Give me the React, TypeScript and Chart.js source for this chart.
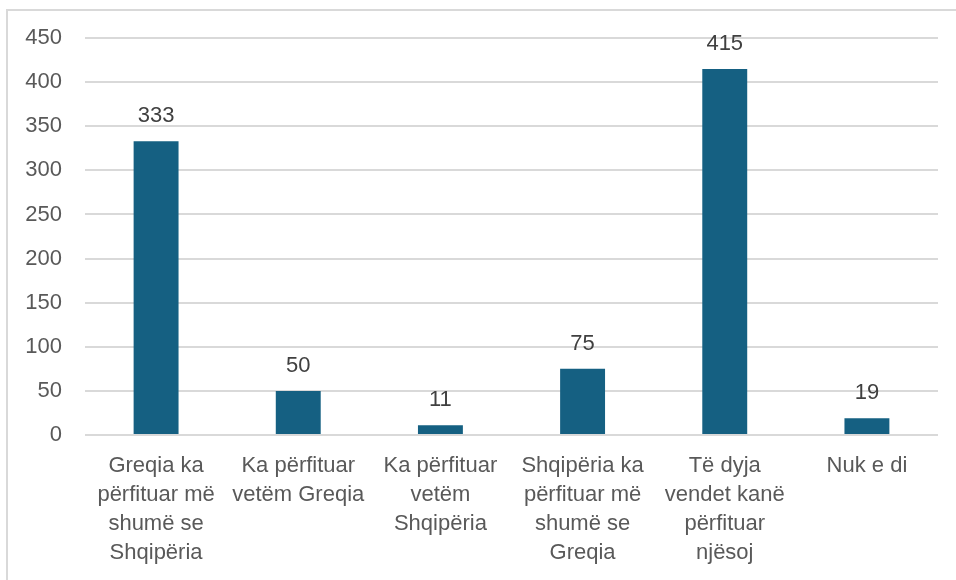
import React, { useEffect, useRef } from "react";
import { Chart, registerables } from "chart.js";

Chart.register(...registerables);

const categories: string[][] = [
  ["Greqia ka", "përfituar më", "shumë se", "Shqipëria"],
  ["Ka përfituar", "vetëm Greqia"],
  ["Ka përfituar", "vetëm", "Shqipëria"],
  ["Shqipëria ka", "përfituar më", "shumë se", "Greqia"],
  ["Të dyja", "vendet kanë", "përfituar", "njësoj"],
  ["Nuk e di"],
];
const values: number[] = [333, 50, 11, 75, 415, 19];

const FONT = "'Liberation Sans', Arial, sans-serif";
const BAR = "#156082";
const GRID = "#d9d9d9";
const AXIS_TEXT = "#595959";
const LABEL_TEXT = "#404040";

const dataLabels = {
  id: "dataLabels",
  afterDatasetsDraw(chart: any) {
    const ctx = chart.ctx;
    const meta = chart.getDatasetMeta(0);
    ctx.save();
    ctx.font = `22px ${FONT}`;
    ctx.fillStyle = LABEL_TEXT;
    ctx.textAlign = "center";
    ctx.textBaseline = "middle";
    meta.data.forEach((bar: any, i: number) => {
      ctx.fillText(String(values[i]), bar.x, bar.y - 25);
    });
    ctx.restore();
  },
};

export default function App() {
  const ref = useRef<HTMLCanvasElement>(null);
  useEffect(() => {
    document.body.style.overflow = "hidden";
    const chart = new Chart(ref.current!, {
      type: "bar",
      data: {
        labels: categories,
        datasets: [
          {
            data: values,
            backgroundColor: BAR,
            borderWidth: 0,
            categoryPercentage: 1,
            barPercentage: 0.316,
          },
        ],
      },
      options: {
        animation: false,
        responsive: false,
        devicePixelRatio: 1,
        layout: { padding: { top: 38, right: 18, left: 0, bottom: 0 } },
        plugins: { legend: { display: false }, tooltip: { enabled: false } },
        scales: {
          x: {
            grid: { display: false, drawTicks: false },
            border: { display: false },
            ticks: {
              autoSkip: false,
              maxRotation: 0,
              minRotation: 0,
              padding: 16,
              color: AXIS_TEXT,
              font: { family: FONT, size: 22, lineHeight: 1.32 },
            },
            afterFit: (s: any) => {
              s.height = 145;
            },
          },
          y: {
            min: 0,
            max: 450,
            grid: { color: GRID, lineWidth: 2, drawTicks: false },
            border: { display: false },
            ticks: {
              stepSize: 50,
              padding: 23,
              color: AXIS_TEXT,
              font: { family: FONT, size: 22 },
            },
            afterFit: (s: any) => {
              s.width = 85;
            },
          },
        },
      },
      plugins: [dataLabels],
    });
    return () => chart.destroy();
  }, []);

  return (
    <>
      <div
        style={{
          position: "absolute",
          left: 6,
          top: 9,
          width: 948,
          height: 569,
          borderTop: `2px solid ${GRID}`,
          borderLeft: `2px solid ${GRID}`,
        }}
      />
      <canvas
        ref={ref}
        width={956}
        height={580}
        style={{ position: "absolute", left: 0, top: 0, width: 956, height: 580 }}
      />
    </>
  );
}
